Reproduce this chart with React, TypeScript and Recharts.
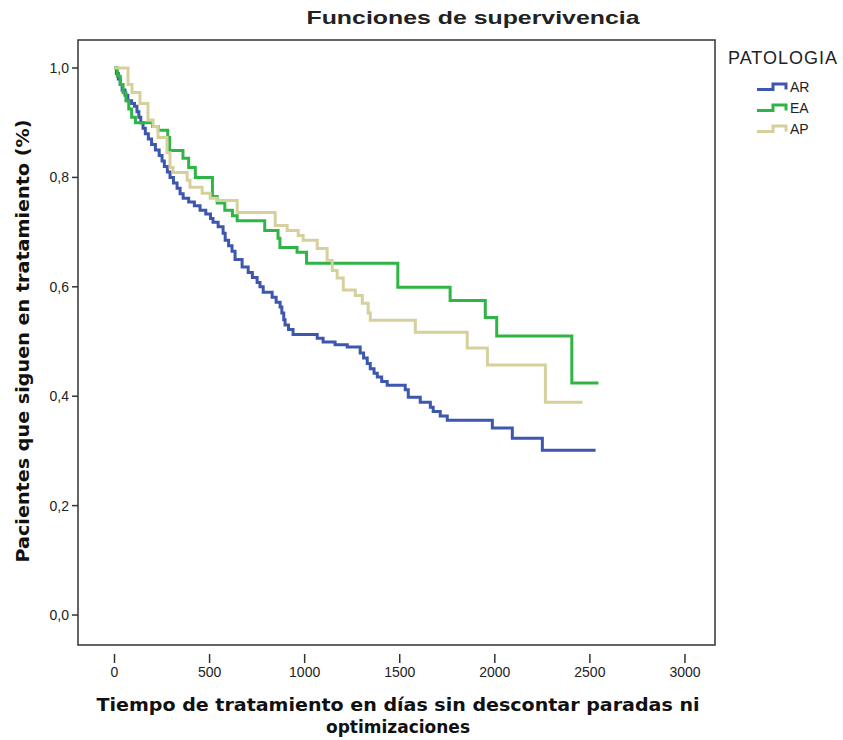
import { LineChart, Line, XAxis, YAxis, ReferenceArea, Legend } from 'recharts';

// Kaplan-Meier steps: [days, survival]
const arPoints = [
    [0, 1.0], [10, 0.99], [20, 0.98], [30, 0.97], [40, 0.96], [55, 0.95], [70, 0.94], [90, 0.935],
    [105, 0.93], [118, 0.92], [128, 0.91], [138, 0.9], [150, 0.89], [162, 0.88], [178, 0.87],
    [195, 0.86], [215, 0.85], [235, 0.84], [250, 0.83], [262, 0.82], [278, 0.81], [292, 0.8],
    [310, 0.79], [329, 0.78], [345, 0.77], [361, 0.762], [390, 0.755], [420, 0.748], [450, 0.74],
    [480, 0.733], [505, 0.725], [518, 0.718], [545, 0.71], [571, 0.698], [582, 0.685], [600, 0.675],
    [618, 0.665], [634, 0.65], [671, 0.636], [703, 0.626], [725, 0.617], [750, 0.608], [765, 0.6],
    [782, 0.59], [829, 0.581], [850, 0.572], [871, 0.563], [880, 0.552], [890, 0.54], [897, 0.53],
    [915, 0.522], [939, 0.513], [1066, 0.506], [1097, 0.499], [1160, 0.494], [1224, 0.49],
    [1292, 0.479], [1310, 0.47], [1329, 0.46], [1345, 0.45], [1365, 0.442], [1382, 0.435],
    [1405, 0.427], [1434, 0.42], [1529, 0.412], [1545, 0.398], [1608, 0.389], [1661, 0.38],
    [1676, 0.372], [1713, 0.364], [1750, 0.356], [1987, 0.342], [2092, 0.323], [2250, 0.301],
    [2530, 0.301],
];

const eaPoints = [
    [0, 1.0], [15, 0.985], [30, 0.97], [45, 0.955], [60, 0.94], [75, 0.925], [90, 0.91], [110, 0.9],
    [200, 0.893], [230, 0.886], [280, 0.873], [290, 0.849], [360, 0.835], [390, 0.818], [425, 0.8],
    [515, 0.765], [540, 0.753], [580, 0.74], [620, 0.73], [645, 0.721], [790, 0.703], [860, 0.689],
    [870, 0.672], [960, 0.663], [1010, 0.643], [1490, 0.599], [1765, 0.575], [1950, 0.544],
    [2010, 0.51], [2405, 0.424], [2545, 0.424],
];

const apPoints = [
    [0, 1.0], [71, 0.97], [92, 0.955], [134, 0.935], [176, 0.905], [203, 0.893], [229, 0.873],
    [276, 0.845], [292, 0.818], [308, 0.809], [382, 0.795], [397, 0.782], [461, 0.771], [503, 0.762],
    [539, 0.758], [645, 0.736], [845, 0.712], [908, 0.703], [966, 0.694], [992, 0.685], [1066, 0.67],
    [1118, 0.648], [1145, 0.63], [1171, 0.616], [1203, 0.594], [1266, 0.584], [1303, 0.57],
    [1334, 0.552], [1345, 0.539], [1582, 0.517], [1855, 0.488], [1961, 0.457], [2266, 0.389],
    [2461, 0.389],
];

const xTicks = [0, 500, 1000, 1500, 2000, 2500, 3000];
const yTicks = [0, 0.2, 0.4, 0.6, 0.8, 1.0];

const series = [
    { name: 'AR', points: arPoints, color: '#3D56AE' },
    { name: 'EA', points: eaPoints, color: '#2FB545' },
    { name: 'AP', points: apPoints, color: '#D6D09C' },
];

const X_MIN = -192;
const X_MAX = 3158;
const Y_MIN = -0.0548;
const Y_MAX = 1.0512;
const LEGEND_W = 115;

const numFont = '"Liberation Sans", Arial, sans-serif';

const toRows = (pts: number[][]) => pts.map(([t, s]) => ({ t, s }));

const XTick = (props: any) => {
    const { x, y, payload } = props;
    return (
        <g>
            <line x1={x} x2={x} y1={y + 9} y2={y + 18} stroke="#333" strokeWidth={1.5} />
            <text x={x} y={y + 32} textAnchor="middle" fontSize={14} fill="#222" fontFamily={numFont}>
                {payload.value}
            </text>
        </g>
    );
};

const renderLegend = () => (
    <div style={{ fontFamily: numFont, color: '#222' }}>
        <div style={{ fontSize: 18, lineHeight: '20px', letterSpacing: 1 }}>PATOLOGIA</div>
        <div style={{ marginLeft: 29, marginTop: 8 }}>
            {series.map((s) => (
                <div key={s.name} style={{ display: 'flex', alignItems: 'center', height: 21, fontSize: 14 }}>
                    <svg width={32} height={10} style={{ marginRight: 1 }}>
                        <path d="M0,7.5 H16 V2 H29 V7.5" fill="none" stroke={s.color} strokeWidth={3} />
                    </svg>
                    <span>{s.name}</span>
                </div>
            ))}
        </div>
    </div>
);

export default function App() {
    return (
        <div style={{ position: 'absolute', left: 0, top: 0, width: 843, height: 740, background: '#fff' }}>
            {/* the vertical legend's width is added to the right margin by recharts */}
            <LineChart width={843} height={740} margin={{ top: 40, right: 128 - LEGEND_W, bottom: 55, left: 18 }}>
                <XAxis
                    type="number"
                    dataKey="t"
                    domain={[X_MIN, X_MAX]}
                    ticks={xTicks}
                    allowDataOverflow
                    axisLine={false}
                    tickLine={false}
                    tickSize={0}
                    tickMargin={0}
                    height={40}
                    tick={<XTick />}
                />
                <YAxis
                    type="number"
                    domain={[Y_MIN, Y_MAX]}
                    ticks={yTicks}
                    allowDataOverflow
                    width={60}
                    axisLine={false}
                    tickSize={6}
                    tickMargin={3}
                    tickLine={{ stroke: '#333', strokeWidth: 1.5 }}
                    tickFormatter={(v: number) => v.toFixed(1).replace('.', ',')}
                    tick={{ fontSize: 14, fill: '#222', fontFamily: numFont }}
                />
                <ReferenceArea
                    x1={X_MIN}
                    x2={X_MAX}
                    y1={Y_MIN}
                    y2={Y_MAX}
                    fill="none"
                    fillOpacity={0}
                    stroke="#333"
                    strokeWidth={1.5}
                />
                {series.map((s) => (
                    <Line
                        key={s.name}
                        data={toRows(s.points)}
                        dataKey="s"
                        name={s.name}
                        type="stepAfter"
                        stroke={s.color}
                        strokeWidth={3}
                        dot={false}
                        isAnimationActive={false}
                    />
                ))}
                <Legend
                    layout="vertical"
                    align="right"
                    verticalAlign="top"
                    content={renderLegend}
                    wrapperStyle={{ left: 728, top: 48, width: LEGEND_W }}
                />
            </LineChart>
            <svg
                width={843}
                height={740}
                style={{ position: 'absolute', left: 0, top: 0, pointerEvents: 'none' }}
            >
                <text
                    x={473}
                    y={24}
                    textAnchor="middle"
                    fontSize={19}
                    fontWeight="bold"
                    fill="#222"
                    fontFamily={numFont}
                    textLength={333}
                    lengthAdjust="spacingAndGlyphs"
                >
                    Funciones de supervivencia
                </text>
                <text
                    x={398}
                    y={711}
                    textAnchor="middle"
                    fontSize={17}
                    fontWeight="bold"
                    fill="#111"
                    fontFamily='"DejaVu Sans", sans-serif'
                    textLength={603}
                    lengthAdjust="spacingAndGlyphs"
                >
                    Tiempo de tratamiento en días sin descontar paradas ni
                </text>
                <text
                    x={398}
                    y={733}
                    textAnchor="middle"
                    fontSize={17}
                    fontWeight="bold"
                    fill="#111"
                    fontFamily='"DejaVu Sans", sans-serif'
                >
                    optimizaciones
                </text>
                <text
                    transform="translate(29,341) rotate(-90)"
                    textAnchor="middle"
                    fontSize={17}
                    fontWeight="bold"
                    fill="#111"
                    fontFamily='"DejaVu Sans", sans-serif'
                    textLength={443}
                    lengthAdjust="spacingAndGlyphs"
                >
                    Pacientes que siguen en tratamiento (%)
                </text>
            </svg>
        </div>
    );
}
